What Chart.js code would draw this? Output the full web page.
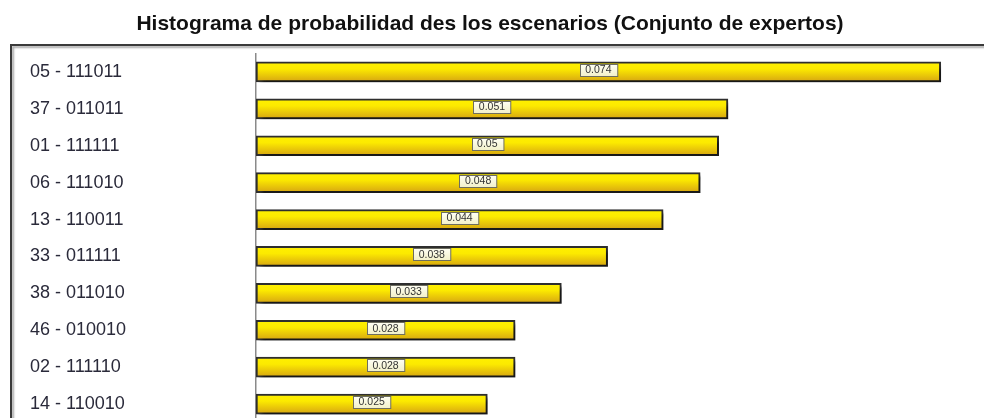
<!DOCTYPE html>
<html>
<head>
<meta charset="utf-8">
<script src="https://cdn.jsdelivr.net/npm/chart.js@4/dist/chart.umd.min.js"></script>
<style>
  html, body { margin: 0; padding: 0; background: #fff; overflow: hidden; }
  #wrap { width: 984px; height: 418px; overflow: hidden; position: relative; }
  canvas { display: block; }
</style>
</head>
<body>
<div id="wrap"><canvas id="c" width="984" height="440"></canvas></div>
<script>
const chartTitle = 'Histograma de probabilidad des los escenarios (Conjunto de expertos)';
const categories = ['05 - 111011', '37 - 011011', '01 - 111111', '06 - 111010', '13 - 110011',
                    '33 - 011111', '38 - 011010', '46 - 010010', '02 - 111110', '14 - 110010'];
const probabilities = [0.074, 0.051, 0.05, 0.048, 0.044, 0.038, 0.033, 0.028, 0.028, 0.025];
const xMax = 0.075;

const framePlugin = {
  id: 'frame',
  beforeDraw(chart) {
    const ctx = chart.ctx;
    ctx.save();
    ctx.fillStyle = '#fff';
    ctx.fillRect(0, 0, chart.width, chart.height);
    ctx.shadowColor = 'rgba(0,0,0,0.35)';
    ctx.shadowOffsetX = 2;
    ctx.shadowOffsetY = 2;
    ctx.shadowBlur = 2;
    ctx.strokeStyle = '#3a3a3a';
    ctx.lineWidth = 2;
    ctx.strokeRect(11, 45, 1100, 1000);
    ctx.restore();
  }
};

const shadowPlugin = {
  id: 'barShadow',
  beforeDatasetsDraw(chart) {
    const ctx = chart.ctx;
    ctx.save();
    ctx.shadowColor = 'rgba(0,0,0,0.5)';
    ctx.shadowOffsetX = 4;
    ctx.shadowOffsetY = 4;
    ctx.shadowBlur = 3;
  },
  afterDatasetsDraw(chart) {
    const ctx = chart.ctx;
    ctx.restore();
    const meta = chart.getDatasetMeta(0);
    ctx.save();
    ctx.font = '10.5px "Liberation Sans", Arial, sans-serif';
    ctx.textAlign = 'center';
    ctx.textBaseline = 'middle';
    meta.data.forEach((el, i) => {
      const txt = String(chart.data.datasets[0].data[i]);
      const cx = (el.base + el.x) / 2;
      const cy = el.y - 2;
      const w = ctx.measureText(txt).width + 11;
      const h = 12;
      const x0 = Math.round(cx - w / 2) + 0.5, y0 = Math.round(cy - h / 2) + 0.5;
      const g = ctx.createLinearGradient(0, y0, 0, y0 + h);
      g.addColorStop(0, '#FFFFF4');
      g.addColorStop(1, '#F2F0C8');
      ctx.fillStyle = g;
      ctx.fillRect(x0, y0, w, h);
      ctx.strokeStyle = '#6E6E60';
      ctx.lineWidth = 1;
      ctx.strokeRect(x0, y0, w, h);
      ctx.fillStyle = '#333';
      ctx.fillText(txt, cx, cy + 0.5);
    });
    ctx.restore();
  }
};

function barGradient(context) {
  const chart = context.chart;
  const ys = chart.scales && chart.scales.y;
  if (!ys || !chart.chartArea) return '#F2D200';
  const yc = ys.getPixelForValue(context.dataIndex);
  const g = chart.ctx.createLinearGradient(0, yc - 10, 0, yc + 10);
  g.addColorStop(0, '#FFF000');
  g.addColorStop(0.35, '#FCEA00');
  g.addColorStop(1, '#D6A412');
  return g;
}

new Chart(document.getElementById('c'), {
  type: 'bar',
  data: {
    labels: categories,
    datasets: [{
      data: probabilities,
      backgroundColor: barGradient,
      borderColor: '#2E2E2E',
      borderWidth: 2,
      borderSkipped: false,
      barThickness: 20
    }]
  },
  options: {
    indexAxis: 'y',
    responsive: false,
    animation: false,
    events: [],
    layout: { padding: { left: 30, right: 34, top: 0, bottom: 17.5 } },
    plugins: {
      legend: { display: false },
      tooltip: { enabled: false },
      title: {
        display: true,
        text: chartTitle,
        color: '#111',
        font: { family: '"Liberation Sans", Arial, sans-serif', size: 21, weight: 'bold', lineHeight: 1.2 },
        padding: { top: 11.8, bottom: 16.5 }
      }
    },
    scales: {
      x: {
        display: false,
        min: 0,
        max: xMax
      },
      y: {
        grid: { display: false },
        border: { display: true, color: '#8A8A8A', width: 1.5 },
        ticks: {
          crossAlign: 'far',
          color: '#2a2a3a',
          padding: 0,
          font: { family: '"Liberation Sans", Arial, sans-serif', size: 18 }
        },
        afterFit(scale) { scale.width = 226; }
      }
    }
  },
  plugins: [framePlugin, shadowPlugin]
});
</script>
</body>
</html>
